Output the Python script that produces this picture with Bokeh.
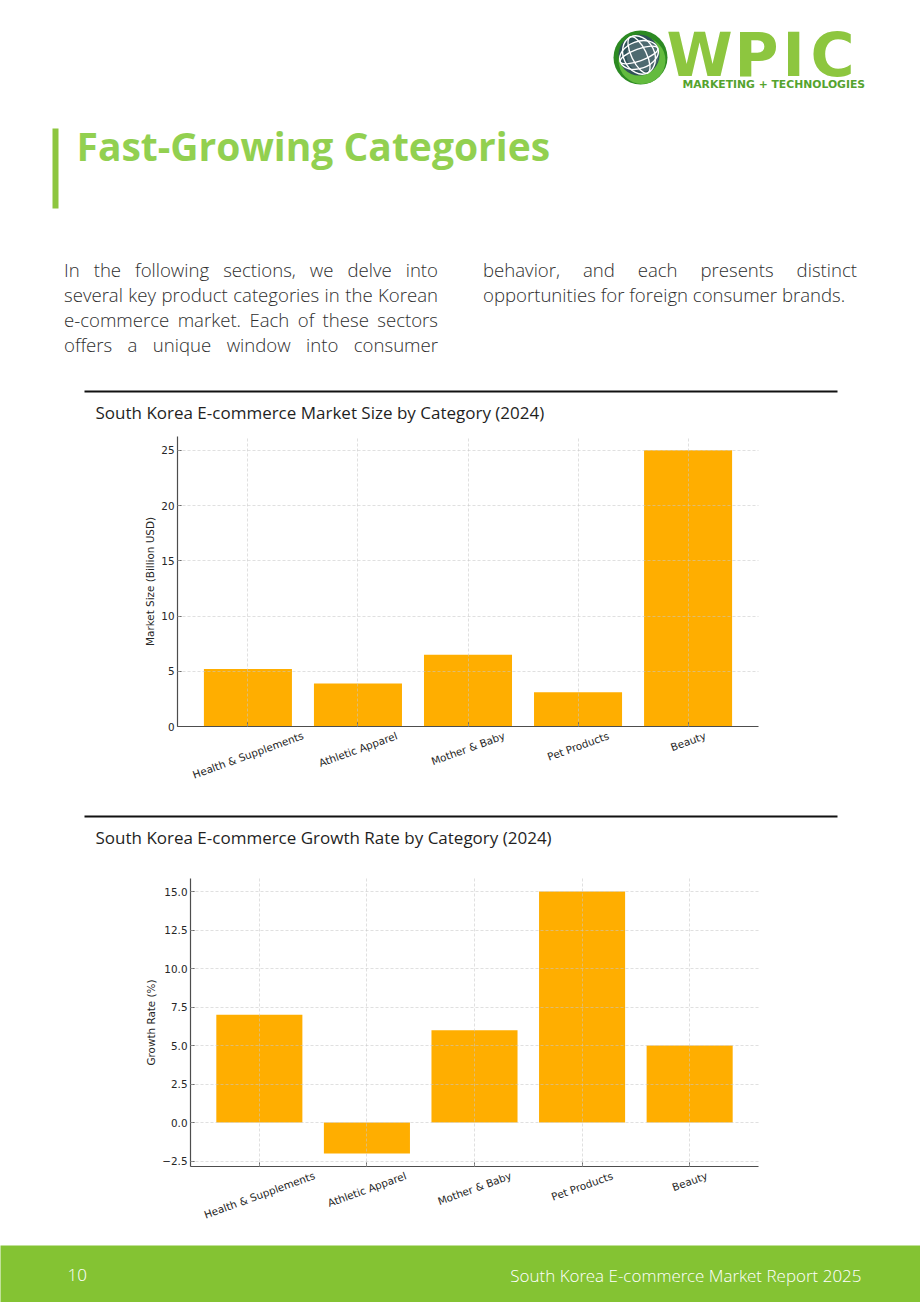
import math

from bokeh.core.properties import value
from bokeh.embed import file_html
from bokeh.layouts import column
from bokeh.models import ColumnDataSource, Div, FactorRange, FixedTicker, Range1d
from bokeh.plotting import figure
from bokeh.resources import INLINE

# ---- data -------------------------------------------------------------
categories = ["Health & Supplements", "Athletic Apparel", "Mother & Baby", "Pet Products", "Beauty"]
market_size = [5.2, 3.9, 6.5, 3.1, 25.0]          # billion USD
growth_rate = [7.0, -2.0, 6.0, 15.0, 5.0]         # percent

size_ticks = [0, 5, 10, 15, 20, 25]
size_tick_labels = ["0", "5", "10", "15", "20", "25"]
growth_ticks = [-2.5, 0.0, 2.5, 5.0, 7.5, 10.0, 12.5, 15.0]
growth_tick_labels = ["\u22122.5", "0.0", "2.5", "5.0", "7.5", "10.0", "12.5", "15.0"]

# ---- page text --------------------------------------------------------
page_title = "Fast-Growing Categories"
intro_left = [
    "In the following sections, we delve into",
    "several key product categories in the Korean",
    "e-commerce market. Each of these sectors",
    "offers a unique window into consumer",
]
intro_right = [
    "behavior, and each presents distinct",
    "opportunities for foreign consumer brands.",
]
size_title = "South Korea E-commerce Market Size by Category (2024)"
growth_title = "South Korea E-commerce Growth Rate by Category (2024)"
size_ylabel = "Market Size (Billion USD)"
growth_ylabel = "Growth Rate (%)"
footer_page = "10"
footer_text = "South Korea E-commerce Market Report 2025"

# ---- style ------------------------------------------------------------
W = 920
RIGHT = 162
AXIS_GAP = 8           # space kept under each chart's x axis line (room for the "0" label)
LIME = "#8DC63F"
TITLE_GREEN = "#92D050"
FOOTER_GREEN = "#84C333"
BAR = "#FFAE00"
INK = "#262626"
TICK_FONT = "DejaVu Sans"
TICK_SIZE = 10.4

# DejaVu Sans advance widths (em) for laying out the rotated category names
GLYPH_EM = {
    "H": .752, "e": .615, "a": .613, "l": .278, "t": .392, "h": .634, " ": .318,
    "&": .780, "S": .635, "u": .634, "p": .635, "m": .974, "n": .634, "s": .521,
    "A": .684, "i": .278, "c": .550, "r": .411, "M": .863, "o": .612, "B": .686,
    "b": .635, "y": .592, "P": .603, "d": .635,
}


def canvas(h, bg="white"):
    """A plain drawing surface in page pixels (y grows downwards)."""
    p = figure(width=W, height=h, x_range=Range1d(0, W), y_range=Range1d(h, 0),
               output_backend="svg", toolbar_location=None,
               x_axis_type=None, y_axis_type=None, min_border=0,
               min_border_left=0, min_border_right=0, min_border_top=0, min_border_bottom=0,
               frame_align=False,
               background_fill_color=bg, border_fill_color=bg,
               outline_line_color=None)
    return p


# ---- header: logo and page title ---------------------------------------
head = canvas(250)
# globe emblem
head.circle(x=[640], y=[57], radius=27, fill_color="#2C8A22", line_color=None)
head.circle(x=[641.5], y=[60], radius=23.5, fill_color="#63BB3E", line_color=None)
head.circle(x=[638.5], y=[54.5], radius=20.5, fill_color="#2F5158", line_color=None)
head.circle(x=[642], y=[55], radius=16, fill_color="#8A9C9F", fill_alpha=0.35, line_color=None)
head.ellipse(x=[638.5] * 2, y=[54.5] * 2, width=[15, 31], height=[40, 40], angle=[0.45, 0.45],
             fill_color=None, line_color="white", line_width=1.4)
head.ellipse(x=[638.5] * 2, y=[54.5] * 2, width=[40, 40], height=[12, 27], angle=[0.35, 0.35],
             fill_color=None, line_color="white", line_width=1.4)
# wordmark
for letter, lx in zip("WPIC", [666, 734, 782, 810]):
    head.text(x=[lx], y=[54], text=[letter], text_font=value("DejaVu Sans"),
              text_font_size="60px", text_font_style="bold", text_color=LIME,
              text_baseline="middle", text_align="left")
head.text(x=[682], y=[84], text=["MARKETING + TECHNOLOGIES"], text_font=value("DejaVu Sans"),
          text_font_size="10.8px", text_font_style="bold", text_color="#55A32E",
          text_baseline="middle", text_align="left")
# title with accent bar
head.quad(left=[52], right=[58], top=[128], bottom=[208], fill_color=LIME, line_color=None)
head.text(x=[76], y=[145], text=[page_title], text_font=value("Open Sans"),
          text_font_size="39px", text_font_style="bold", text_color=TITLE_GREEN,
          text_baseline="middle", text_align="left")


# ---- intro paragraph (two justified columns) ---------------------------
def column_html(lines, left, last_plain):
    rows = []
    for i, t in enumerate(lines):
        last = "left" if (last_plain and i == len(lines) - 1) else "justify"
        rows.append(f'<div style="white-space:nowrap;text-align:justify;'
                    f'text-align-last:{last};">{t}</div>')
    return (f'<div style="position:absolute;left:{left}px;top:6.5px;width:374px;">'
            + "".join(rows) + "</div>")


intro_html = (
    '<div style="position:relative;width:920px;height:135px;font-family:\'Open Sans\';'
    'font-size:18.6px;font-weight:300;color:#2e2e2e;line-height:25px;">'
    + column_html(intro_left, 64, False)
    + column_html(intro_right, 483, True)
    + "</div>"
)
intro = Div(text=intro_html, width=W, height=135, margin=0)


# ---- section header: rule + chart title -------------------------------
def section(title):
    p = canvas(46)
    p.segment(x0=[84], y0=[6], x1=[837], y1=[6], line_color="#111111", line_width=2)
    p.text(x=[95], y=[26.5], text=[title], text_font=value("Open Sans"),
           text_font_size="17px", text_color="#1f1f1f", text_baseline="middle",
           text_align="left")
    return p


# ---- bar chart --------------------------------------------------------
def label_drop(label, angle_deg=20, pad=4.0):
    """Vertical distance from the axis to the centre of a rotated, centred tick label."""
    a = math.radians(angle_deg)
    length = TICK_SIZE * sum(GLYPH_EM.get(ch, 0.6) for ch in label)
    h = 0.9 * TICK_SIZE
    return pad + (length * math.sin(a) + h * math.cos(a)) / 2


def bar_chart(vals, ylabel, ticks, tick_labels, y_lo, y_hi, frame_h, left, top):
    p = figure(width=W, height=top + frame_h + AXIS_GAP,
               x_range=FactorRange(*categories, range_padding=0.14, range_padding_units="absolute"),
               y_range=Range1d(y_lo, y_hi),
               output_backend="svg", toolbar_location=None,
               min_border_left=left, min_border_right=RIGHT,
               min_border_top=top, min_border_bottom=AXIS_GAP, frame_align=False,
               outline_line_color=None, background_fill_color="white",
               border_fill_color="white")
    src = ColumnDataSource(dict(cat=categories, val=vals))
    p.vbar(x="cat", top="val", bottom=0, width=0.8, source=src,
           fill_color=BAR, line_color=None)

    for ax in (p.xaxis[0], p.yaxis[0]):
        ax.axis_line_color = "#4d4d4d"
        ax.axis_line_width = 1.2
        ax.major_tick_line_color = "#4d4d4d"
        ax.major_tick_in = 4
        ax.major_tick_out = 0
        ax.minor_tick_line_color = None
        ax.major_label_text_font = TICK_FONT
        ax.major_label_text_font_size = f"{TICK_SIZE}px"
        ax.major_label_text_color = INK

    # category names are set, rotated, in the strip below the chart
    p.xaxis.major_label_text_color = None
    p.xaxis.major_label_standoff = 0
    p.yaxis.ticker = FixedTicker(ticks=ticks)
    p.yaxis.major_label_overrides = {t: s for t, s in zip(ticks, tick_labels)}
    p.yaxis.major_label_standoff = 3
    p.yaxis.axis_label = ylabel
    p.yaxis.axis_label_text_font = TICK_FONT
    p.yaxis.axis_label_text_font_size = f"{TICK_SIZE}px"
    p.yaxis.axis_label_text_font_style = "normal"
    p.yaxis.axis_label_text_color = INK
    p.yaxis.axis_label_standoff = 2

    p.grid.grid_line_color = "#c8c8c8"
    p.grid.grid_line_dash = "3 2"
    p.grid.grid_line_width = 0.7
    p.grid.grid_line_alpha = 0.8
    p.grid.level = "overlay"
    return p


def label_strip(chart, h, left):
    """Rotated category names under a chart, on the chart's own category scale.
    The strip is transparent and slides up to the chart's x axis line, so its
    y scale counts pixels below that line."""
    p = figure(width=W, height=h, x_range=chart.x_range, y_range=Range1d(-h, 0),
               output_backend="svg", toolbar_location=None,
               x_axis_type=None, y_axis_type=None, min_border=0,
               min_border_left=left, min_border_right=RIGHT,
               min_border_top=0, min_border_bottom=0, frame_align=False,
               outline_line_color=None, background_fill_alpha=0, border_fill_alpha=0,
               margin=(-AXIS_GAP, 0, 0, 0))
    p.text(x=categories, y=[-label_drop(c) for c in categories], text=categories,
           angle=math.radians(20), text_align="center", text_baseline="middle",
           text_font=value(TICK_FONT), text_font_size=f"{TICK_SIZE}px", text_color=INK)
    return p


size_hi = max(market_size) * 1.05
span = max(growth_rate) - min(growth_rate)
growth_lo = min(growth_rate) - 0.05 * span
growth_hi = max(growth_rate) + 0.05 * span

chart_size = bar_chart(market_size, size_ylabel, size_ticks, size_tick_labels,
                       0, size_hi, frame_h=290, left=177, top=5)
strip_size = label_strip(chart_size, 84, 177)
chart_growth = bar_chart(growth_rate, growth_ylabel, growth_ticks, growth_tick_labels,
                         growth_lo, growth_hi, frame_h=288, left=190, top=22)
strip_growth = label_strip(chart_growth, 79, 190)

# ---- footer -----------------------------------------------------------
foot = canvas(57, bg=FOOTER_GREEN)
foot.text(x=[67], y=[29.5], text=[footer_page], text_font=value("Open Sans Light"),
          text_font_size="17px", text_color="white", text_baseline="middle", text_align="left")
foot.text(x=[861], y=[29.5], text=[footer_text], text_font=value("Open Sans Light"),
          text_font_size="17px", text_color="white", text_baseline="middle", text_align="right")

page = column(head, intro, section(size_title), chart_size, strip_size,
              section(growth_title), chart_growth, strip_growth, foot)

open("out.html", "w").write(file_html(page, INLINE))
